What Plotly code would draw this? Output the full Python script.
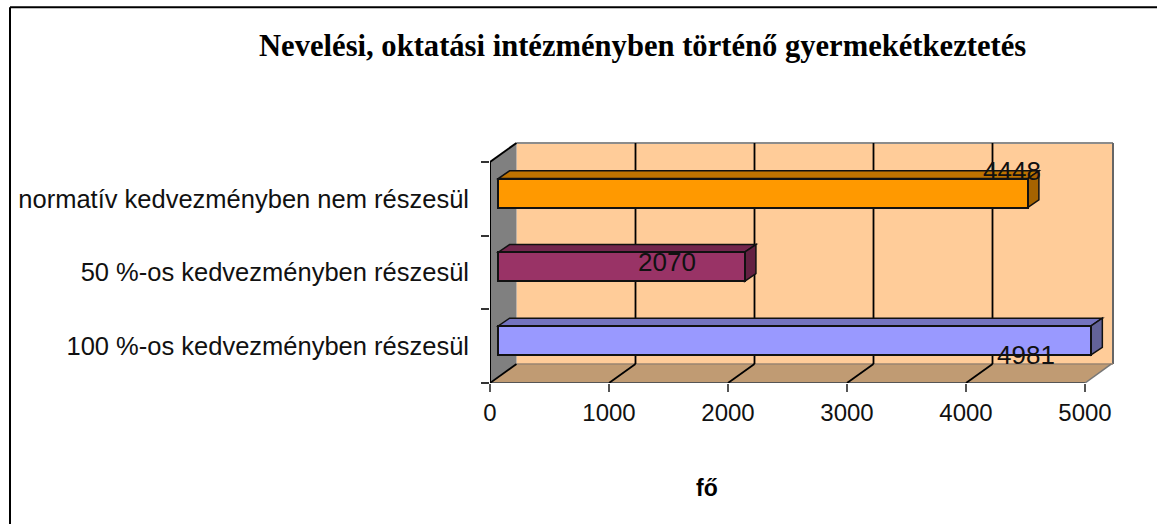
import plotly.graph_objects as go

# ---- data ----
categories = ["100 %-os kedvezményben részesül", "50 %-os kedvezményben részesül", "normatív kedvezményben nem részesül"]
values = [4981, 2070, 4448]
front_colors = ["#9999FF", "#993366", "#FF9900"]
top_colors = ["#7373BF", "#73264D", "#BF7300"]
side_colors = ["#636399", "#632142", "#A66300"]
x_ticks = [0, 1000, 2000, 3000, 4000, 5000]
title_text = "Nevelési, oktatási intézményben történő gyermekétkeztetés"
axis_title = "fő"

# ---- layout constants (pixels) ----
W, H = 1157, 524
L, R, T, B = 490, 1116, 140, 382.7
WALL_R, WALL_T = 1113, 143
PX_PER_UNIT = 595 / 5000
PX_PER_BAND = 73.6
XMAX = (R - L) / PX_PER_UNIT
YMAX = (B - T) / PX_PER_BAND
XWALL = (WALL_R - L) / PX_PER_UNIT
YWALL = (B - WALL_T) / PX_PER_BAND
DX, DY = 26.5 / PX_PER_UNIT, 19 / PX_PER_BAND        # depth of the floor
BAR_X0, BAR_DY = 8.3 / PX_PER_UNIT, 5.7 / PX_PER_BAND  # bar's front-face offset
BDX, BDY = 11.3 / PX_PER_UNIT, 7.7 / PX_PER_BAND      # bar depth
BAR_W = 29 / PX_PER_BAND
YTOP = 3


def poly(pts, fill, line=None, width=1, layer="below"):
    d = "M " + " L ".join(f"{x},{y}" for x, y in pts) + " Z"
    return dict(type="path", path=d, xref="x", yref="y", fillcolor=fill, layer=layer,
                line=dict(color=line or "rgba(0,0,0,0)", width=width if line else 0))


def seg(x0, y0, x1, y1, color="black", width=1.5, layer="below"):
    return dict(type="line", x0=x0, y0=y0, x1=x1, y1=y1, xref="x", yref="y", layer=layer,
                line=dict(color=color, width=width))


shapes = [
    # back wall
    poly([(DX, DY), (XWALL, DY), (XWALL, YWALL), (DX, YWALL)], "#FFCC99"),
    seg(DX, YWALL, XWALL, YWALL, "#8C8C8C", 2),
    seg(XWALL, DY, XWALL, YWALL, "#666666", 2),
    # floor
    poly([(0, 0), (5000, 0), (5000 + DX, DY), (DX, DY)], "#C09B73"),
    seg(DX, DY, XWALL, DY, "#9A8570", 1.5),
    # left wall
    poly([(0, 0), (DX, DY), (DX, YWALL), (0, YTOP)], "#808080"),
    seg(0, 0, 0, YTOP, "black", 2),
    seg(0, YTOP, DX, YWALL, "black", 2),
    seg(0, 0, 5000, 0, "#555555", 2),
    seg(5000, 0, 5000 + DX, DY, "#777777", 1.5),
]
for t in x_ticks[:-1]:
    shapes.append(seg(t, 0, t + DX, DY, "black", 1.8))
    if t > 0:
        shapes.append(seg(t + DX, DY, t + DX, YWALL, "black", 1.8))

ycenters = [i + 0.5 + BAR_DY for i in range(len(values))]
for v, yc, tc, sc in zip(values, ycenters, top_colors, side_colors):
    x0, x1 = BAR_X0, BAR_X0 + v
    y0, y1 = yc - BAR_W / 2, yc + BAR_W / 2
    shapes.append(poly([(x0, y1), (x1, y1), (x1 + BDX, y1 + BDY), (x0 + BDX, y1 + BDY)], tc, "#111111", 1.5))
    shapes.append(poly([(x1, y0), (x1 + BDX, y0 + BDY), (x1 + BDX, y1 + BDY), (x1, y1)], sc, "#111111", 1.5))


def px(x):
    return (x - L) / (R - L)


def py(y):
    return (B - y) / (B - T)


# outer frame (top and left edges only are visible in the reference)
shapes.append(dict(type="line", xref="paper", yref="paper", x0=px(10), x1=px(1157), y0=py(7.5), y1=py(7.5),
                   line=dict(color="black", width=2), layer="below"))
shapes.append(dict(type="line", xref="paper", yref="paper", x0=px(10), x1=px(10), y0=py(7.5), y1=py(524),
                   line=dict(color="black", width=2), layer="below"))

fig = go.Figure(go.Bar(
    x=values, y=ycenters, base=[BAR_X0] * len(values), orientation="h", width=BAR_W,
    marker=dict(color=front_colors, line=dict(color="#111111", width=2)),
    hoverinfo="x+y", showlegend=False,
))

FONT = "Liberation Sans, Arial, sans-serif"
# data labels sit at Excel's odd positions
label_shift = [(-57, -15), (-69, 4.5), (-7, 22.5)]
annotations = [
    dict(x=v, y=yc, text=str(v), xref="x", yref="y", showarrow=False, xanchor="center", yanchor="middle",
         xshift=s[0], yshift=s[1], font=dict(family=FONT, size=26, color="#111111"))
    for v, yc, s in zip(values, ycenters, label_shift)
]
annotations += [
    dict(x=px(642.5), y=py(46), xref="paper", yref="paper", text=f"<b>{title_text}</b>", showarrow=False,
         xanchor="center", yanchor="middle", font=dict(family="Liberation Serif, Times New Roman, serif", size=30.6, color="#000000")),
    dict(x=px(707), y=py(488), xref="paper", yref="paper", text=f"<b>{axis_title}</b>", showarrow=False,
         xanchor="center", yanchor="middle", font=dict(family=FONT, size=23, color="#000000")),
]

fig.update_layout(
    width=W, height=H, autosize=False,
    margin=dict(l=L, r=W - R, t=T, b=H - B, pad=0),
    paper_bgcolor="white", plot_bgcolor="white",
    shapes=shapes, annotations=annotations, bargap=0,
    xaxis=dict(range=[0, XMAX], tickmode="array", tickvals=x_ticks, ticktext=[str(t) for t in x_ticks],
               ticks="outside", ticklen=8, tickcolor="#555555", tickwidth=1.5, showgrid=False, zeroline=False,
               showline=False, tickfont=dict(family=FONT, size=24, color="#111111")),
    yaxis=dict(range=[0, YMAX], tickmode="array", tickvals=[0.5, 1.5, 2.5], ticktext=categories,
               ticks="", ticklabelstandoff=20, showgrid=False, zeroline=False, showline=False,
               tickfont=dict(family=FONT, size=25.5, color="#111111"),
               minor=dict(ticks="outside", tickmode="array", tickvals=[0, 1, 2, 3], ticklen=8, tickcolor="#333333",
                          tickwidth=1.5, showgrid=False)),
)

fig.write_html("out.html", config={"displayModeBar": False}, post_script="document.body.style.margin='0';")
